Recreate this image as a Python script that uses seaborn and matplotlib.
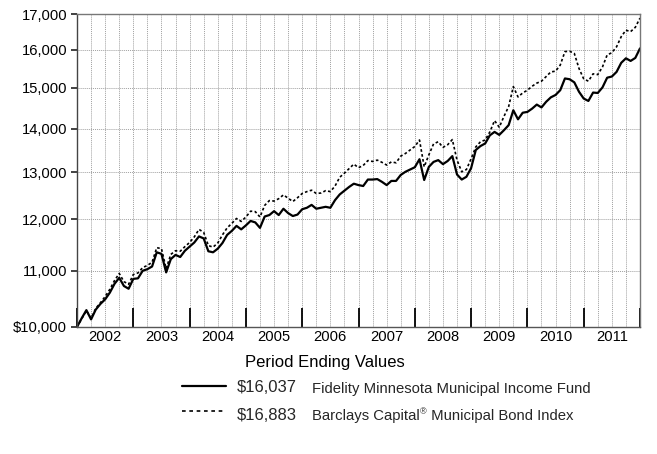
import matplotlib
matplotlib.use("Agg")
import matplotlib.pyplot as plt
from matplotlib.lines import Line2D
from matplotlib.ticker import FixedLocator, NullLocator, MultipleLocator
import matplotlib.transforms as mtransforms
import numpy as np
import pandas as pd
import seaborn as sns

# ---------------- data ----------------
years = ["2002", "2003", "2004", "2005", "2006", "2007", "2008", "2009", "2010", "2011"]
fund_name = "Fidelity Minnesota Municipal Income Fund"
index_name = "Barclays Capital"  # followed by superscript ® and rest
index_rest = " Municipal Bond Index"
fund_end = "$16,037"
index_end = "$16,883"
y_ticks = [10000, 11000, 12000, 13000, 14000, 15000, 16000, 17000]
y_labels = ["$10,000", "11,000", "12,000", "13,000", "14,000", "15,000", "16,000", "17,000"]

fund = [10000, 10150, 10290, 10130, 10300, 10400, 10480, 10600, 10760, 10870,
        10720, 10670, 10850, 10860, 11000, 11030, 11080, 11350, 11320, 10970,
        11220, 11300, 11260, 11380, 11460, 11540, 11660, 11620, 11370, 11350,
        11420, 11530, 11690, 11770, 11870, 11800, 11880, 11970, 11940, 11830,
        12060, 12090, 12170, 12090, 12220, 12130, 12070, 12100, 12210, 12240,
        12300, 12220, 12240, 12260, 12240, 12400, 12520, 12600, 12680, 12750,
        12720, 12700, 12840, 12840, 12850, 12790, 12720, 12810, 12810, 12940,
        13010, 13060, 13110, 13290, 12830, 13120, 13230, 13270, 13180, 13250,
        13360, 12950, 12840, 12900, 13090, 13500, 13590, 13650, 13840, 13920,
        13850, 13960, 14080, 14440, 14220, 14380, 14400, 14480, 14580, 14510,
        14650, 14760, 14820, 14940, 15240, 15220, 15140, 14900, 14730, 14670,
        14880, 14870, 15010, 15260, 15290, 15410, 15650, 15770, 15700, 15780,
        16037]

index = [10000, 10140, 10280, 10150, 10320, 10420, 10530, 10660, 10820, 10950,
         10800, 10750, 10930, 10960, 11060, 11100, 11160, 11440, 11420, 11040,
         11310, 11380, 11370, 11460, 11540, 11650, 11800, 11740, 11480, 11450,
         11530, 11690, 11830, 11920, 12020, 11960, 12050, 12170, 12160, 12050,
         12290, 12390, 12380, 12430, 12510, 12440, 12370, 12450, 12540, 12580,
         12610, 12540, 12550, 12600, 12580, 12700, 12890, 12980, 13080, 13180,
         13100, 13150, 13260, 13240, 13270, 13220, 13160, 13230, 13210, 13360,
         13420, 13500, 13580, 13730, 13120, 13390, 13640, 13690, 13560, 13620,
         13740, 13270, 13010, 13060, 13300, 13570, 13690, 13730, 13920, 14190,
         14030, 14290, 14530, 15030, 14770, 14870, 14940, 15040, 15120, 15170,
         15290, 15410, 15430, 15590, 15950, 15960, 15900, 15500, 15230, 15170,
         15360, 15340, 15540, 15860, 15920, 16080, 16360, 16540, 16500, 16620,
         16883]

months = np.arange(len(fund))
df = pd.DataFrame({"month": months, "fund": fund, "index": index})

# ---------------- style ----------------
sns.set_style("white")
plt.rcParams["font.family"] = ["Liberation Sans", "DejaVu Sans"]

W, H = 657, 454
fig = plt.figure(figsize=(W / 100, H / 100), dpi=100)
ax = fig.add_axes([77 / W, 1 - 327 / H, (640 - 77) / W, (327 - 14) / H])

sns.lineplot(data=df, x="month", y="index", ax=ax, color="black",
             linewidth=1.2, linestyle=(0, (1.6, 1.4)), legend=False)
sns.lineplot(data=df, x="month", y="fund", ax=ax, color="black",
             linewidth=1.6, legend=False)

ax.set_yscale("log")
ax.set_ylim(10000, 17000)
ax.set_xlim(0, 120)
ax.yaxis.set_major_locator(FixedLocator(y_ticks))
ax.yaxis.set_minor_locator(NullLocator())
ax.set_yticklabels(y_labels)
ax.tick_params(axis="y", which="major", left=True, direction="out", length=4.5,
               width=1.3, color="#333333", labelsize=10.6, pad=2.5,
               labelcolor="black")

# x: major at year boundaries (tall inner ticks), minor every quarter (grid only)
ax.xaxis.set_major_locator(MultipleLocator(12))
ax.xaxis.set_minor_locator(MultipleLocator(3))
ax.tick_params(axis="x", which="major", bottom=True, direction="in", length=14,
               width=1.3, color="black", labelbottom=False)
ax.tick_params(axis="x", which="minor", bottom=True, length=0, labelbottom=False)

ax.grid(True, which="both", axis="x", linestyle=(0, (1, 1)),
        color="#a0a0a0", linewidth=0.7)
ax.grid(True, which="major", axis="y", linestyle=(0, (1, 1)),
        color="#a0a0a0", linewidth=0.7)
ax.set_axisbelow(True)
ax.set_xlabel("")
ax.set_ylabel("")

for s in ax.spines.values():
    s.set_visible(True)
    s.set_color("#777777")
    s.set_linewidth(1.0)
ax.spines["left"].set_color("#444444")
ax.spines["bottom"].set_color("#555555")

# year labels centered in each year interval
trans = mtransforms.blended_transform_factory(ax.transData, ax.transAxes)
for i, yr in enumerate(years):
    ax.text(i * 12 + 6, -0.031, yr, transform=trans, ha="center", va="center",
            fontsize=10.6, color="black")

# ---------------- custom legend ----------------
def fx(px):
    return px / W

def fy(py):
    return 1 - py / H

fig.text(fx(325), fy(362), "Period Ending Values", ha="center", va="center",
         fontsize=12, color="black")

fig.add_artist(Line2D([fx(182), fx(226)], [fy(386), fy(386)], color="black",
                      linewidth=1.6))
fig.add_artist(Line2D([fx(182), fx(226)], [fy(411), fy(411)], color="black",
                      linewidth=1.2, linestyle=(0, (2.2, 2.2))))

fig.text(fx(237), fy(388), fund_end, ha="left", va="center", fontsize=12)
fig.text(fx(237), fy(415), index_end, ha="left", va="center", fontsize=12)
fig.text(fx(312), fy(389), fund_name, ha="left", va="center", fontsize=10.7)

t1 = fig.text(fx(312), fy(416), index_name, ha="left", va="center", fontsize=10.7)
fig.canvas.draw()
r = fig.canvas.get_renderer()
bb = t1.get_window_extent(renderer=r)
x_end = bb.x1 / W
reg = fig.text(x_end + 0.5 / W, fy(412), "\u00ae", ha="left", va="center", fontsize=6.5)
bb2 = reg.get_window_extent(renderer=r)
fig.text(bb2.x1 / W, fy(416), index_rest, ha="left", va="center", fontsize=10.7)

fig.savefig("out.png", dpi=100)
